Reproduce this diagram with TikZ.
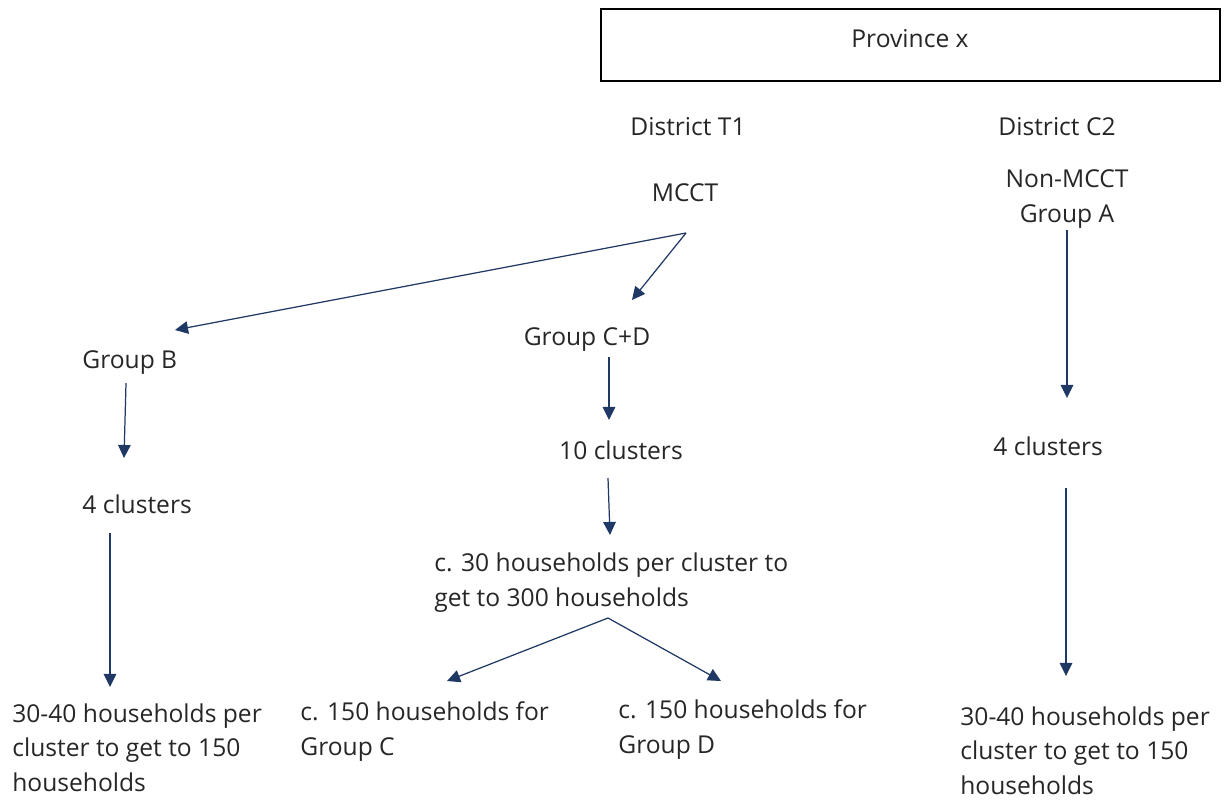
\documentclass[tikz,border=0pt]{standalone}
\usepackage{fontspec}
\setmainfont{Open Sans}
\usetikzlibrary{arrows.meta}
\definecolor{navy}{HTML}{1F3864}
\begin{document}
\begin{tikzpicture}[x=0.02cm,y=-0.02cm,
  lbl/.style={inner sep=0pt,align=left,font=\fontsize{14}{19.56}\selectfont,text=black!85},
  flow/.style={draw=navy,line width=0.7pt,-{Triangle[length=13.5pt*0.55,width=13pt*0.55]}},
  frame/.style={draw=black,line width=1.3pt}]
  \useasboundingbox (0,0) rectangle (1226,801);

  % top box
  \node[frame,minimum width=619*0.02cm,minimum height=72*0.02cm,anchor=north west,inner sep=0pt] (prov) at (600,8) {};
  \node[lbl,anchor=base] (provt) at (910,47) {Province x};

  % headings
  \node[lbl,anchor=base] (dt1) at (688,135) {District T1};
  \node[lbl,anchor=base] (dc2) at (1057,135) {District C2};
  \node[lbl,anchor=base] (mcct) at (685,201) {MCCT};
  % multi-line labels are placed by the baseline of their last line
  \node[lbl,anchor=base,align=center] (nonm) at (1067,222) {Non-MCCT\\Group A};

  % left branch
  \node[lbl,anchor=base west] (grpb) at (82,368) {Group B};
  \node[lbl,anchor=base west] (cl4a) at (82,513) {4 clusters};
  \node[lbl,anchor=base west] (hhb) at (12,791) {30-40 households per\\cluster to get to 150\\households};

  % middle branch
  \node[lbl,anchor=base] (grpcd) at (587,345) {Group C+D};
  \node[lbl,anchor=base] (cl10) at (621,459) {10 clusters};
  \node[lbl,anchor=base west] (hh300) at (434,606) {c. 30 households per cluster to\\get to 300 households};
  \node[lbl,anchor=base west] (hhc) at (300,755) {c. 150 households for\\Group C};
  \node[lbl,anchor=base west] (hhd) at (618,753) {c. 150 households for\\Group D};

  % right branch
  \node[lbl,anchor=base west] (cl4c) at (993,455) {4 clusters};
  \node[lbl,anchor=base west] (hha) at (960,794) {30-40 households per\\cluster to get to 150\\households};

  % connector end points
  \coordinate (mcctout) at (686,233);
  \coordinate (grpbin) at (175,330);
  \coordinate (grpcdin) at (632,300);
  \coordinate (grpcdout) at (609,357);
  \coordinate (cl10in) at (609,420);
  \coordinate (cl10out) at (608,478);
  \coordinate (hh300in) at (610,535);
  \coordinate (hh300out) at (608,618);
  \coordinate (hhcin) at (447,681);
  \coordinate (hhdin) at (721,681);
  \coordinate (grpbout) at (126,383);
  \coordinate (cl4ain) at (124,458);
  \coordinate (cl4aout) at (110,533);
  \coordinate (hhbin) at (110,687);
  \coordinate (nonmout) at (1067,230);
  \coordinate (cl4cin) at (1067,398);
  \coordinate (cl4cout) at (1066,488);
  \coordinate (hhain) at (1066,676);

  \draw[flow] (mcctout) -- (grpbin);
  \draw[flow] (mcctout) -- (grpcdin);
  \draw[flow] (grpcdout) -- (cl10in);
  \draw[flow] (cl10out) -- (hh300in);
  \draw[flow] (hh300out) -- (hhcin);
  \draw[flow] (hh300out) -- (hhdin);
  \draw[flow] (grpbout) -- (cl4ain);
  \draw[flow] (cl4aout) -- (hhbin);
  \draw[flow] (nonmout) -- (cl4cin);
  \draw[flow] (cl4cout) -- (hhain);
\end{tikzpicture}
\end{document}
